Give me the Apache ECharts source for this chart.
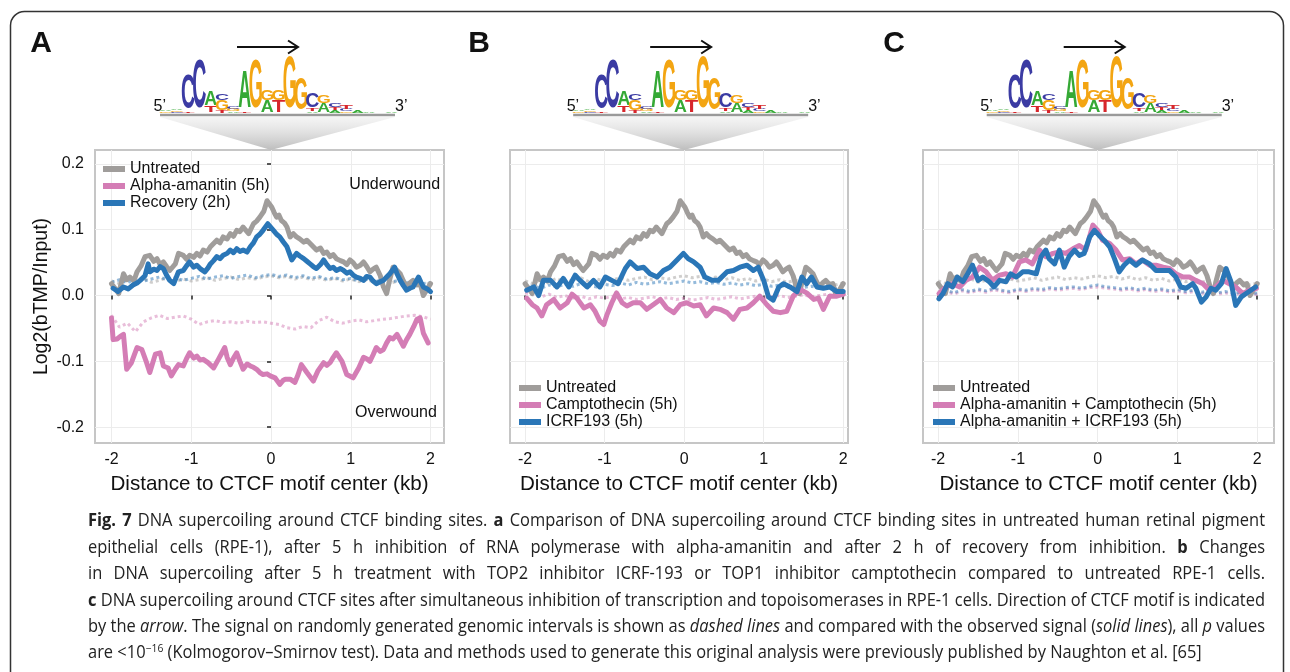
<!DOCTYPE html>
<html>
<head>
<meta charset="utf-8">
<script src="https://cdn.jsdelivr.net/npm/echarts@6/dist/echarts.min.js"></script>
<style>
html, body { margin: 0; padding: 0; background: #fff; }
#chart { width: 1290px; height: 672px; }
</style>
</head>
<body>
<div id="chart"></div>
<script>
// 观测信号（实线），[距离 kb, log2(bTMP/Input)]
var untreated = [[-2.00,0.018],[-1.95,0.010],[-1.91,0.003],[-1.85,0.033],[-1.81,0.024],[-1.77,0.028],[-1.72,0.022],[-1.68,0.036],[-1.63,0.045],[-1.58,0.059],[-1.52,0.061],[-1.47,0.052],[-1.43,0.056],[-1.39,0.047],[-1.35,0.051],[-1.31,0.044],[-1.27,0.038],[-1.20,0.048],[-1.16,0.064],[-1.10,0.061],[-1.06,0.055],[-1.02,0.061],[-0.97,0.058],[-0.93,0.064],[-0.89,0.060],[-0.85,0.069],[-0.80,0.066],[-0.76,0.074],[-0.72,0.079],[-0.68,0.084],[-0.64,0.080],[-0.60,0.089],[-0.55,0.086],[-0.51,0.094],[-0.47,0.090],[-0.43,0.099],[-0.39,0.097],[-0.35,0.104],[-0.28,0.094],[-0.22,0.109],[-0.18,0.113],[-0.14,0.119],[-0.09,0.128],[-0.05,0.144],[0.01,0.134],[0.04,0.126],[0.07,0.119],[0.10,0.122],[0.13,0.114],[0.17,0.110],[0.20,0.104],[0.24,0.089],[0.28,0.094],[0.32,0.089],[0.36,0.086],[0.41,0.081],[0.45,0.084],[0.49,0.079],[0.53,0.074],[0.57,0.069],[0.62,0.072],[0.66,0.064],[0.70,0.066],[0.74,0.059],[0.78,0.062],[0.82,0.056],[0.87,0.053],[0.91,0.051],[0.95,0.047],[0.99,0.054],[1.03,0.050],[1.07,0.043],[1.12,0.046],[1.16,0.051],[1.20,0.044],[1.24,0.036],[1.28,0.040],[1.32,0.043],[1.37,0.030],[1.41,0.013],[1.45,0.003],[1.49,0.025],[1.53,0.043],[1.58,0.038],[1.62,0.033],[1.66,0.022],[1.70,0.013],[1.74,0.019],[1.78,0.023],[1.83,0.016],[1.87,0.018],[1.91,0.000],[1.95,0.008],[2.00,0.018]];
var alpha = [[-2.00,-0.034],[-1.98,-0.067],[-1.93,-0.066],[-1.89,-0.062],[-1.85,-0.059],[-1.81,-0.112],[-1.75,-0.102],[-1.72,-0.092],[-1.68,-0.079],[-1.62,-0.082],[-1.56,-0.102],[-1.52,-0.117],[-1.45,-0.089],[-1.39,-0.087],[-1.35,-0.107],[-1.29,-0.110],[-1.25,-0.122],[-1.20,-0.112],[-1.16,-0.105],[-1.10,-0.107],[-1.06,-0.096],[-1.02,-0.087],[-0.97,-0.095],[-0.93,-0.092],[-0.89,-0.098],[-0.85,-0.097],[-0.79,-0.102],[-0.72,-0.110],[-0.66,-0.097],[-0.62,-0.088],[-0.58,-0.079],[-0.55,-0.094],[-0.51,-0.105],[-0.47,-0.095],[-0.43,-0.087],[-0.39,-0.100],[-0.35,-0.112],[-0.30,-0.104],[-0.26,-0.107],[-0.22,-0.109],[-0.18,-0.112],[-0.14,-0.117],[-0.10,-0.120],[-0.05,-0.119],[-0.01,-0.122],[0.05,-0.125],[0.11,-0.135],[0.15,-0.129],[0.18,-0.127],[0.24,-0.127],[0.30,-0.132],[0.34,-0.120],[0.38,-0.105],[0.45,-0.117],[0.53,-0.130],[0.59,-0.114],[0.66,-0.102],[0.70,-0.106],[0.74,-0.102],[0.78,-0.094],[0.82,-0.087],[0.89,-0.100],[0.95,-0.120],[1.03,-0.125],[1.10,-0.110],[1.16,-0.094],[1.20,-0.096],[1.24,-0.100],[1.28,-0.090],[1.32,-0.079],[1.37,-0.085],[1.41,-0.082],[1.45,-0.072],[1.49,-0.064],[1.53,-0.066],[1.58,-0.059],[1.62,-0.068],[1.66,-0.077],[1.70,-0.067],[1.74,-0.059],[1.79,-0.047],[1.83,-0.036],[1.87,-0.034],[1.91,-0.057],[1.97,-0.072]];
var recovery = [[-1.98,0.011],[-1.92,0.006],[-1.85,0.013],[-1.79,0.010],[-1.73,0.016],[-1.68,0.019],[-1.64,0.023],[-1.58,0.030],[-1.54,0.048],[-1.52,0.036],[-1.47,0.040],[-1.43,0.038],[-1.39,0.044],[-1.35,0.041],[-1.31,0.031],[-1.27,0.023],[-1.22,0.018],[-1.16,0.036],[-1.10,0.038],[-1.06,0.045],[-1.02,0.051],[-0.97,0.043],[-0.93,0.046],[-0.88,0.040],[-0.83,0.036],[-0.79,0.042],[-0.76,0.048],[-0.72,0.053],[-0.68,0.059],[-0.64,0.056],[-0.60,0.061],[-0.55,0.064],[-0.51,0.069],[-0.47,0.065],[-0.43,0.071],[-0.39,0.067],[-0.35,0.069],[-0.30,0.066],[-0.26,0.074],[-0.22,0.080],[-0.18,0.089],[-0.14,0.093],[-0.10,0.099],[-0.04,0.109],[0.03,0.099],[0.07,0.093],[0.11,0.089],[0.15,0.082],[0.20,0.074],[0.26,0.054],[0.32,0.064],[0.36,0.060],[0.41,0.056],[0.45,0.052],[0.49,0.048],[0.53,0.044],[0.57,0.041],[0.62,0.047],[0.66,0.054],[0.70,0.047],[0.74,0.041],[0.78,0.043],[0.82,0.038],[0.87,0.041],[0.91,0.038],[0.95,0.034],[0.99,0.036],[1.03,0.031],[1.07,0.028],[1.12,0.026],[1.16,0.023],[1.20,0.029],[1.24,0.028],[1.28,0.022],[1.32,0.018],[1.37,0.021],[1.41,0.023],[1.45,0.028],[1.49,0.033],[1.55,0.043],[1.58,0.033],[1.62,0.023],[1.66,0.015],[1.70,0.008],[1.74,0.011],[1.78,0.013],[1.85,0.028],[1.88,0.020],[1.91,0.013],[1.96,0.010],[2.00,0.006]];
var campto = [[-1.98,-0.004],[-1.91,-0.014],[-1.85,-0.019],[-1.79,-0.031],[-1.73,-0.014],[-1.64,-0.006],[-1.56,-0.019],[-1.47,-0.011],[-1.41,0.002],[-1.35,-0.004],[-1.26,-0.019],[-1.18,-0.014],[-1.12,-0.024],[-1.06,-0.039],[-1.01,-0.044],[-0.97,-0.029],[-0.91,-0.011],[-0.85,0.004],[-0.78,-0.011],[-0.72,-0.016],[-0.64,-0.011],[-0.55,-0.011],[-0.47,-0.021],[-0.39,-0.014],[-0.30,-0.006],[-0.22,-0.019],[-0.13,-0.026],[-0.05,-0.014],[0.03,-0.011],[0.12,-0.016],[0.20,-0.014],[0.28,-0.031],[0.37,-0.019],[0.45,-0.021],[0.54,-0.026],[0.62,-0.036],[0.70,-0.021],[0.79,-0.019],[0.87,-0.011],[0.95,-0.001],[1.04,-0.014],[1.12,-0.024],[1.21,-0.026],[1.29,-0.024],[1.37,-0.001],[1.46,0.009],[1.54,0.004],[1.63,-0.006],[1.69,-0.004],[1.75,-0.021],[1.83,-0.001],[1.92,-0.001],[2.00,0.002]];
var icrf = [[-1.98,0.008],[-1.89,0.013],[-1.83,0.000],[-1.77,0.023],[-1.68,0.023],[-1.60,0.013],[-1.52,0.026],[-1.45,0.013],[-1.37,0.031],[-1.31,0.023],[-1.22,0.013],[-1.14,0.023],[-1.06,0.013],[-0.99,0.028],[-0.91,0.023],[-0.83,0.018],[-0.74,0.041],[-0.68,0.051],[-0.59,0.041],[-0.51,0.043],[-0.43,0.033],[-0.34,0.028],[-0.26,0.038],[-0.18,0.043],[-0.09,0.054],[-0.01,0.064],[0.05,0.056],[0.12,0.051],[0.20,0.043],[0.26,0.028],[0.35,0.023],[0.43,0.023],[0.54,0.036],[0.62,0.038],[0.70,0.043],[0.79,0.046],[0.87,0.038],[0.93,0.043],[1.00,0.023],[1.06,-0.002],[1.12,-0.007],[1.19,0.013],[1.25,0.018],[1.33,0.013],[1.42,0.006],[1.48,0.028],[1.54,0.018],[1.60,0.028],[1.67,0.013],[1.75,0.011],[1.83,0.013],[1.92,0.006],[2.00,0.006]];
var aaCampto = [[-1.99,0.003],[-1.90,0.013],[-1.82,0.018],[-1.73,0.013],[-1.65,0.023],[-1.57,0.028],[-1.48,0.043],[-1.40,0.036],[-1.32,0.023],[-1.23,0.031],[-1.15,0.033],[-1.07,0.028],[-0.98,0.051],[-0.90,0.054],[-0.82,0.048],[-0.73,0.069],[-0.65,0.059],[-0.56,0.064],[-0.48,0.066],[-0.40,0.064],[-0.31,0.071],[-0.23,0.076],[-0.15,0.069],[-0.06,0.107],[0.00,0.099],[0.06,0.084],[0.15,0.079],[0.23,0.069],[0.31,0.054],[0.40,0.056],[0.48,0.048],[0.56,0.054],[0.65,0.046],[0.73,0.046],[0.82,0.043],[0.90,0.041],[0.98,0.033],[1.07,0.028],[1.15,0.028],[1.23,0.023],[1.32,0.018],[1.40,0.008],[1.48,0.013],[1.57,0.023],[1.65,0.018],[1.73,0.013],[1.82,0.003],[1.90,0.008],[1.99,0.011]];
var aaIcrf = [[-1.99,-0.005],[-1.94,0.003],[-1.88,0.018],[-1.82,0.013],[-1.76,0.028],[-1.69,0.021],[-1.63,0.033],[-1.57,0.046],[-1.50,0.023],[-1.44,0.028],[-1.36,0.021],[-1.30,0.013],[-1.23,0.023],[-1.15,0.021],[-1.09,0.033],[-1.02,0.028],[-0.94,0.036],[-0.86,0.036],[-0.77,0.033],[-0.71,0.059],[-0.65,0.069],[-0.61,0.056],[-0.54,0.048],[-0.48,0.069],[-0.42,0.043],[-0.36,0.059],[-0.29,0.069],[-0.23,0.061],[-0.17,0.064],[-0.10,0.089],[-0.04,0.099],[0.02,0.091],[0.08,0.084],[0.15,0.074],[0.21,0.056],[0.27,0.036],[0.33,0.046],[0.40,0.054],[0.48,0.046],[0.56,0.054],[0.65,0.048],[0.73,0.038],[0.82,0.038],[0.90,0.038],[0.98,0.028],[1.04,0.013],[1.11,0.011],[1.19,0.018],[1.23,0.011],[1.30,-0.010],[1.36,-0.002],[1.42,0.011],[1.48,0.008],[1.55,0.018],[1.61,0.041],[1.67,0.021],[1.73,-0.015],[1.80,-0.002],[1.86,0.003],[1.92,0.008],[1.98,0.013]];

// 随机区间信号（虚线），x 共用 randX
var randX = [-2,-1.9,-1.8,-1.7,-1.6,-1.5,-1.4,-1.3,-1.2,-1.1,-1,-0.9,-0.8,-0.7,-0.6,-0.5,-0.4,-0.3,-0.2,-0.1,0,0.1,0.2,0.3,0.4,0.5,0.6,0.7,0.8,0.9,1,1.1,1.2,1.3,1.4,1.5,1.6,1.7,1.8,1.9,2];
var untreatedRand = [0.022,0.018,0.025,0.021,0.026,0.020,0.023,0.027,0.021,0.025,0.022,0.024,0.027,0.023,0.026,0.028,0.024,0.027,0.025,0.028,0.030,0.027,0.029,0.025,0.028,0.024,0.027,0.023,0.026,0.022,0.025,0.021,0.024,0.020,0.023,0.019,0.022,0.018,0.021,0.016,0.019];
var alphaRand = [-0.030,-0.048,-0.042,-0.055,-0.040,-0.034,-0.030,-0.035,-0.033,-0.031,-0.036,-0.044,-0.040,-0.038,-0.041,-0.040,-0.042,-0.039,-0.041,-0.040,-0.042,-0.044,-0.049,-0.051,-0.047,-0.049,-0.038,-0.033,-0.040,-0.042,-0.039,-0.037,-0.040,-0.038,-0.036,-0.035,-0.033,-0.031,-0.030,-0.032,-0.036];
var recoveryRand = [0.020,0.024,0.019,0.026,0.022,0.025,0.028,0.024,0.027,0.023,0.026,0.029,0.025,0.028,0.030,0.026,0.029,0.031,0.027,0.030,0.032,0.029,0.031,0.027,0.030,0.026,0.029,0.025,0.027,0.024,0.026,0.022,0.025,0.021,0.024,0.020,0.023,0.019,0.022,0.018,0.020];
var camptoRand = [0.004,0.001,-0.002,0.002,-0.003,0.000,-0.004,-0.001,-0.005,-0.002,-0.004,-0.001,-0.005,-0.003,-0.006,-0.004,-0.002,-0.005,-0.003,-0.006,-0.004,-0.007,-0.005,-0.003,-0.006,-0.004,-0.002,-0.005,-0.003,-0.001,-0.004,-0.002,0.000,-0.003,-0.001,0.001,-0.002,0.000,0.002,-0.001,0.001];
var icrfRand = [0.012,0.015,0.011,0.016,0.013,0.017,0.014,0.018,0.015,0.013,0.017,0.015,0.019,0.016,0.020,0.017,0.019,0.021,0.018,0.020,0.022,0.019,0.021,0.018,0.020,0.017,0.019,0.016,0.018,0.015,0.017,0.014,0.016,0.013,0.015,0.012,0.014,0.011,0.013,0.010,0.012];
var aaCamptoRand = [0.003,0.006,0.002,0.007,0.004,0.008,0.005,0.009,0.006,0.004,0.008,0.006,0.009,0.007,0.010,0.008,0.010,0.011,0.009,0.012,0.013,0.011,0.010,0.008,0.010,0.007,0.009,0.006,0.008,0.005,0.007,0.004,0.006,0.003,0.005,0.002,0.004,0.001,0.003,0.000,0.002];
var aaIcrfRand = [0.005,0.008,0.004,0.009,0.006,0.010,0.007,0.011,0.008,0.006,0.010,0.008,0.011,0.009,0.012,0.010,0.012,0.013,0.011,0.014,0.016,0.013,0.012,0.010,0.012,0.009,0.011,0.008,0.010,0.007,0.009,0.006,0.008,0.005,0.007,0.004,0.006,0.003,0.005,0.002,0.004];

// 刻度
var xTicks = [-2, -1, 0, 1, 2];
var yTicks = [-0.2, -0.1, 0, 0.1, 0.2];

// 图例名称
var namesA = ['Untreated', 'Alpha-amanitin (5h)', 'Recovery (2h)'];
var namesB = ['Untreated', 'Camptothecin (5h)', 'ICRF193 (5h)'];
var namesC = ['Untreated', 'Alpha-amanitin + Camptothecin (5h)', 'Alpha-amanitin + ICRF193 (5h)'];

// CTCF motif 各位置的碱基高度（bits），自下而上
var motifCols = [
    [['G',0.05],['A',0.06]],
    [['C',0.04],['G',0.06],['A',0.05]],
    [['T',0.05],['C',1.32]],
    [['C',1.85]],
    [['T',0.22],['A',0.57]],
    [['T',0.08],['G',0.38],['C',0.26]],
    [['A',0.06],['G',0.08],['C',0.10]],
    [['T',0.05],['A',1.40]],
    [['G',1.85]],
    [['A',0.45],['G',0.38]],
    [['T',0.45],['G',0.38]],
    [['G',1.96]],
    [['G',1.20]],
    [['A',0.06],['T',0.10],['C',0.57]],
    [['A',0.34],['G',0.30]],
    [['A',0.10],['T',0.10],['C',0.12]],
    [['G',0.06],['C',0.08],['T',0.12]],
    [['A',0.10]],
    [['A',0.05]],
    [],
    [['A',0.06]]
];

var GRAY = '#a09d9b', PINK = '#d47db5', BLUE = '#2a76b7';
var FONT = 'Liberation Sans';

var dom = document.getElementById('chart');
var myChart = echarts.init(dom);

var grids = [
    {left: 95, top: 150, width: 349, height: 293},
    {left: 510, top: 150, width: 338, height: 293},
    {left: 923, top: 150, width: 351, height: 293}
];
var xRanges = [[-2.207, 2.169], [-2.19, 2.06], [-2.19, 2.21]];

function solid(name, data, color, g) {
    return {
        name: name, type: 'line', xAxisIndex: g, yAxisIndex: g, data: data,
        symbol: 'none', showSymbol: false, silent: true, z: 3,
        lineStyle: {width: 5, color: color, cap: 'round', join: 'round'},
        itemStyle: {color: color}
    };
}
function dashed(values, color, g) {
    return {
        type: 'line', xAxisIndex: g, yAxisIndex: g,
        data: randX.map(function (x, i) { return [x, values[i]]; }),
        symbol: 'none', showSymbol: false, silent: true, z: 2,
        lineStyle: {width: 3, color: color, type: [3, 3], opacity: 0.5}
    };
}

var xAxes = [], yAxes = [];
for (var g = 0; g < 3; g++) {
    xAxes.push({
        gridIndex: g, type: 'value', min: xRanges[g][0], max: xRanges[g][1],
        axisLine: {show: false},
        axisTick: {show: true, length: 4, customValues: xTicks, lineStyle: {color: '#222', width: 1.5}},
        axisLabel: {customValues: xTicks, color: '#111', fontSize: 16, fontFamily: FONT, margin: 9},
        splitLine: {show: true, lineStyle: {color: '#ececec', width: 1}},
        name: 'Distance to CTCF motif center (kb)', nameLocation: 'middle', nameGap: 31,
        nameTextStyle: {fontSize: 20.6, color: '#111', fontFamily: FONT}
    });
    yAxes.push({
        gridIndex: g, type: 'value', min: -0.224, max: 0.221,
        axisLine: {show: false},
        axisTick: {show: g === 0, length: 4, customValues: yTicks, lineStyle: {color: '#222', width: 1.5}},
        axisLabel: {show: g === 0, customValues: yTicks, color: '#111', fontSize: 16, fontFamily: FONT, margin: 11,
            formatter: function (v) { return v.toFixed(1); }},
        splitLine: {show: true, lineStyle: {color: '#ececec', width: 1}},
        name: g === 0 ? 'Log2(bTMP/Input)' : '', nameLocation: 'middle', nameGap: 43,
        nameTextStyle: {fontSize: 19.5, color: '#111', fontFamily: FONT}
    });
}

function legendAt(names, left, top) {
    return {
        data: names, left: left, top: top, orient: 'vertical', padding: 0,
        itemWidth: 22, itemHeight: 6, itemGap: 0, icon: 'rect', selectedMode: false,
        textStyle: {fontSize: 16, fontFamily: FONT, color: '#111', lineHeight: 17}
    };
}

var option = {
    animation: false,
    backgroundColor: '#fff',
    grid: grids.map(function (gr) {
        return Object.assign({show: true, borderColor: '#c6c6c6', borderWidth: 2, backgroundColor: '#fff', outerBoundsMode: 'none'}, gr);
    }),
    xAxis: xAxes,
    yAxis: yAxes,
    legend: [legendAt(namesA, 103, 160.5), legendAt(namesB, 519, 379.5), legendAt(namesC, 933, 379.5)],
    series: [
        dashed(untreatedRand, GRAY, 0), dashed(alphaRand, PINK, 0), dashed(recoveryRand, BLUE, 0),
        solid(namesA[0], untreated, GRAY, 0), solid(namesA[1], alpha, PINK, 0), solid(namesA[2], recovery, BLUE, 0),
        dashed(untreatedRand, GRAY, 1), dashed(camptoRand, PINK, 1), dashed(icrfRand, BLUE, 1),
        solid(namesB[0], untreated, GRAY, 1), solid(namesB[1], campto, PINK, 1), solid(namesB[2], icrf, BLUE, 1),
        dashed(untreatedRand, GRAY, 2), dashed(aaCamptoRand, PINK, 2), dashed(aaIcrfRand, BLUE, 2),
        solid(namesC[0], untreated, GRAY, 2), solid(namesC[1], aaCampto, PINK, 2), solid(namesC[2], aaIcrf, BLUE, 2)
    ]
};
myChart.setOption(option);

// ---- motif logo、箭头、漏斗、图注 ----
var baseColors = {A: '#35a935', C: '#3b3ba3', G: '#f3a512', T: '#d7262b'};
var inkEm = {A: 0.70, C: 0.64, G: 0.69, T: 0.58};

function motifGraphics(cx) {
    var els = [];
    var base = 113, x0 = cx - 105.5, colW = 11.3, bitPx = 26.5, glyphW = 12.5;
    // 漏斗形阴影
    els.push({type: 'polygon', silent: true, z: 1,
        shape: {points: [[cx - 111, 117], [cx + 124, 117], [cx, 150]]},
        style: {fill: new echarts.graphic.LinearGradient(0, 0, 0, 1, [
            {offset: 0, color: 'rgba(225,225,225,0.35)'},
            {offset: 1, color: '#bdbdbd'}])}
    });
    motifCols.forEach(function (col, i) {
        var acc = 0;
        var xc = x0 + i * colW;
        col.forEach(function (c) {
            var H = c[1] * bitPx;
            if (H >= 0.6) {
                els.push({type: 'text', silent: true, z: 3, x: xc, y: base - acc - H / 2,
                    scaleX: glyphW / (inkEm[c[0]] * 20), scaleY: H / (0.716 * 20),
                    style: {text: c[0], fontSize: 20, fontWeight: 'bold', fontFamily: FONT, fill: baseColors[c[0]],
                        align: 'center', verticalAlign: 'middle', textAlign: 'center', textVerticalAlign: 'middle'}});
            }
            acc += H;
        });
    });
    els.push({type: 'line', silent: true, z: 2, shape: {x1: cx - 111, y1: 115, x2: cx + 124, y2: 115},
        style: {stroke: '#9a9a9a', lineWidth: 2.5}});
    els.push({type: 'text', silent: true, x: cx - 105, y: 107,
        style: {text: '5\u2019', fontSize: 16, fontFamily: FONT, fill: '#111', align: 'right', verticalAlign: 'middle', textAlign: 'right', textVerticalAlign: 'middle'}});
    els.push({type: 'text', silent: true, x: cx + 124, y: 107,
        style: {text: '3\u2019', fontSize: 16, fontFamily: FONT, fill: '#111', align: 'left', verticalAlign: 'middle', textAlign: 'left', textVerticalAlign: 'middle'}});
    // 方向箭头
    els.push({type: 'line', silent: true, shape: {x1: cx - 34, y1: 47, x2: cx + 26, y2: 47},
        style: {stroke: '#111', lineWidth: 2}});
    els.push({type: 'polyline', silent: true, shape: {points: [[cx + 17, 40.5], [cx + 27, 47], [cx + 17, 53.5]]},
        style: {stroke: '#111', lineWidth: 2, fill: null}});
    return els;
}

// 图注
var CAP_SIZE = 17.5;
var capFonts = {
    n: CAP_SIZE + 'px "Open Sans"',
    b: 'bold ' + CAP_SIZE + 'px "Open Sans"',
    i: 'italic ' + CAP_SIZE + 'px "Open Sans"',
    s: '11px "Open Sans"'
};
var capRich = {
    n: {fontSize: CAP_SIZE, fontFamily: 'Open Sans', fill: '#222', lineHeight: 20},
    b: {fontSize: CAP_SIZE, fontFamily: 'Open Sans', fontWeight: 'bold', fill: '#222', lineHeight: 20},
    i: {fontSize: CAP_SIZE, fontFamily: 'Open Sans', fontStyle: 'italic', fill: '#222', lineHeight: 20},
    s: {fontSize: 11, fontFamily: 'Open Sans', fill: '#222', lineHeight: 12, verticalAlign: 'top'}
};
var captionLines = [
    [['b', 'Fig. 7'], ['n', ' DNA supercoiling around CTCF binding sites. '], ['b', 'a'], ['n', ' Comparison of DNA supercoiling around CTCF binding sites in untreated human retinal pigment']],
    [['n', 'epithelial cells (RPE-1), after 5 h inhibition of RNA polymerase with alpha-amanitin and after 2 h of recovery from inhibition. '], ['b', 'b'], ['n', ' Changes']],
    [['n', 'in DNA supercoiling after 5 h treatment with TOP2 inhibitor ICRF-193 or TOP1 inhibitor camptothecin compared to untreated RPE-1 cells.']],
    [['b', 'c'], ['n', ' DNA supercoiling around CTCF sites after simultaneous inhibition of transcription and topoisomerases in RPE-1 cells. Direction of CTCF motif is indicated']],
    [['n', 'by the '], ['i', 'arrow'], ['n', '. The signal on randomly generated genomic intervals is shown as '], ['i', 'dashed lines'], ['n', ' and compared with the observed signal ('], ['i', 'solid lines'], ['n', '), all '], ['i', 'p'], ['n', ' values']],
    [['n', 'are <10'], ['s', '\u221216'], ['n', ' (Kolmogorov\u2013Smirnov test). Data and methods used to generate this original analysis were previously published by Naughton et al. [65]']]
];
var captionY = [521, 548, 574, 601, 627, 653];
var CAP_LEFT = 88, CAP_RIGHT = 1265;

var mctx = document.createElement('canvas').getContext('2d');
function measureSegs(segs) {
    var w = 0;
    segs.forEach(function (s) { mctx.font = capFonts[s[0]]; w += mctx.measureText(s[1]).width; });
    return w;
}
// 把一行拆成单词，每个单词是若干 [样式, 文本] 片段
function splitWords(segs) {
    var words = [], cur = [];
    segs.forEach(function (s) {
        s[1].split(' ').forEach(function (p, pi) {
            if (pi > 0 && cur.length) { words.push(cur); cur = []; }
            if (p.length) cur.push([s[0], p]);
        });
    });
    if (cur.length) words.push(cur);
    return words;
}
mctx.font = capFonts.n;
var spaceW = mctx.measureText(' ').width;
var lineWords = captionLines.map(splitWords);
var lineWidths = lineWords.map(function (words) { return words.map(measureSegs); });
// 横向压缩系数：让最长的一行以正常词距刚好排满
var condense = 10;
lineWidths.forEach(function (ws, li) {
    if (li === lineWidths.length - 1) return;
    var sum = ws.reduce(function (a, b) { return a + b; }, 0);
    condense = Math.min(condense, (CAP_RIGHT - CAP_LEFT) / (sum + spaceW * (ws.length - 1)));
});

var gfx = [];
lineWords.forEach(function (words, li) {
    var ws = lineWidths[li];
    var sum = ws.reduce(function (a, b) { return a + b; }, 0);
    var last = li === lineWords.length - 1;
    var gap = last ? spaceW * condense : (CAP_RIGHT - CAP_LEFT - sum * condense) / (words.length - 1);
    var x = CAP_LEFT;
    words.forEach(function (wd, wi) {
        var str = wd.map(function (s) { return '{' + s[0] + '|' + s[1] + '}'; }).join('');
        gfx.push({type: 'text', silent: true, x: x, y: captionY[li], scaleX: condense,
            style: {text: str, rich: capRich, fill: '#222', fontSize: CAP_SIZE, fontFamily: 'Open Sans',
                align: 'left', verticalAlign: 'middle', textAlign: 'left', textVerticalAlign: 'middle'}});
        x += ws[wi] * condense + gap;
    });
});

// 外框
gfx.push({type: 'rect', silent: true, shape: {x: 10.5, y: 11.5, width: 1273, height: 720, r: 14},
    style: {fill: null, stroke: '#333', lineWidth: 1.5}});
// A B C 标签
[['A', 41], ['B', 479], ['C', 894]].forEach(function (p) {
    gfx.push({type: 'text', silent: true, x: p[1], y: 44,
        style: {text: p[0], fontSize: 30, fontWeight: 'bold', fontFamily: FONT, fill: '#111',
            align: 'center', verticalAlign: 'middle', textAlign: 'center', textVerticalAlign: 'middle'}});
});
for (var k = 0; k < 3; k++) {
    var cx = myChart.convertToPixel({gridIndex: k}, [0, 0])[0];
    gfx = gfx.concat(motifGraphics(cx));
}
// 注释
var pUnder = myChart.convertToPixel({gridIndex: 0}, [2.12, 0.169]);
var pOver = myChart.convertToPixel({gridIndex: 0}, [2.08, -0.178]);
gfx.push({type: 'text', silent: true, z: 5, x: pUnder[0], y: pUnder[1],
    style: {text: 'Underwound', fontSize: 16, fontFamily: FONT, fill: '#111', align: 'right', verticalAlign: 'middle', textAlign: 'right', textVerticalAlign: 'middle'}});
gfx.push({type: 'text', silent: true, z: 5, x: pOver[0], y: pOver[1],
    style: {text: 'Overwound', fontSize: 16, fontFamily: FONT, fill: '#111', align: 'right', verticalAlign: 'middle', textAlign: 'right', textVerticalAlign: 'middle'}});

myChart.setOption({graphic: {elements: gfx}});
</script>
</body>
</html>
